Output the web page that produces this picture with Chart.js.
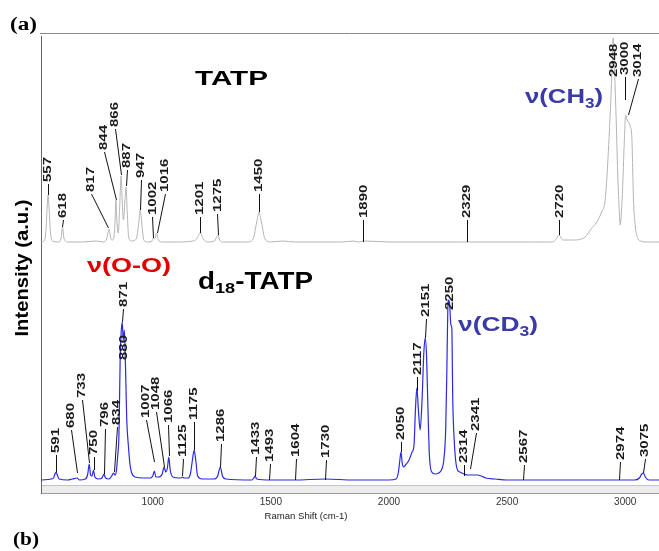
<!DOCTYPE html>
<html>
<head>
<meta charset="utf-8">
<script src="https://cdn.jsdelivr.net/npm/chart.js@4"></script>
<style>
html,body{margin:0;padding:0;background:#fff;}
canvas{display:block;}
</style>
</head>
<body>
<canvas id="c" width="659" height="551"></canvas>
<script>
// ---------- data ----------
const wavenumberTicks = [1000, 1500, 2000, 2500, 3000];

// TATP spectrum (intensity above its own baseline, a.u.)
const tatpShift = [527,540,548,553,557,561,566,575,600,612,618,624,640,700,760,790,805,815,822,830,
  838,841,844,848,854,860,866,871,876,882,887,892,898,910,930,940,947,954,962,980,
  997,1002,1008,1016,1024,1040,1100,1170,1185,1201,1215,1230,1262,1270,1276,1283,1300,1400,1425,1440,
  1450,1460,1475,1500,1550,1600,1800,1850,1870,1900,2000,2300,2600,2690,2705,2720,2735,2780,2830,2855,
  2880,2900,2915,2925,2939,2945,2949,2955,2962,2968,2974,2979,2984,2990,2996,3002,3008,3014,3022,3028,
  3035,3043,3055,3065,3100,3143];
const tatpIntensity = [0,0.01,0.12,0.35,0.47,0.35,0.12,0.01,0,0.04,0.15,0.04,0,0,0.01,0,0.03,0.13,0.04,0.02,
  0.1,0.25,0.42,0.22,0.09,0.35,0.66,0.4,0.22,0.4,0.55,0.3,0.05,0.01,0.03,0.18,0.32,0.18,0.02,0,
  0.01,0.04,0.03,0.09,0.02,0,0,0.01,0.03,0.09,0.03,0,0.01,0.05,0.07,0.02,0,0,0.03,0.2,
  0.3,0.2,0.03,0,0.01,0,0,0.01,0,0.01,0,0,0,0,0.02,0.07,0.02,0.02,0.05,0.13,
  0.2,0.3,0.42,0.75,1.42,1.8,2.04,1.7,1.2,0.7,0.35,0.17,0.3,0.6,1.0,1.27,1.22,1.2,1.15,1.05,
  0.42,0.15,0.03,0.01,0,0];

// d18-TATP spectrum (intensity above its baseline, a.u.)
const d18Shift = [527,570,580,586,591,596,604,640,660,680,690,715,725,731,737,743,749,755,770,785,
  794,800,815,826,834,840,846,852,857,862,867,871,875,880,885,890,897,904,911,925,
  960,990,1000,1007,1013,1025,1040,1048,1055,1062,1068,1074,1085,1110,1120,1125,1132,1150,1160,1168,
  1175,1182,1190,1210,1260,1275,1286,1295,1310,1420,1428,1433,1440,1500,1600,1730,1850,2000,2030,2040,
  2047,2051,2056,2062,2070,2085,2098,2106,2112,2118,2124,2132,2140,2147,2153,2159,2164,2171,2181,2195,
  2210,2222,2232,2240,2245,2249,2253,2257,2262,2266,2270,2276,2282,2290,2300,2318,2335,2350,2375,2390,
  2410,2450,2500,2700,3040,3060,3070,3077,3085,3100,3143];
const d18Intensity = [0,0.01,0.02,0.06,0.08,0.05,0.01,0,0.01,0.02,0,0.01,0.06,0.16,0.05,0.04,0.1,0.03,0.01,0.02,
  0.06,0.02,0.01,0.04,0.07,0.05,0.09,0.25,0.45,1.2,1.5,1.58,1.4,1.5,1.1,0.6,0.34,0.15,0.07,0.03,
  0.02,0.02,0.04,0.09,0.03,0.03,0.06,0.13,0.08,0.12,0.23,0.1,0.03,0.02,0.02,0.03,0.02,0.02,0.07,0.2,
  0.3,0.2,0.04,0.01,0.01,0.04,0.13,0.04,0.01,0,0.02,0.04,0.01,0,0,0.01,0,0,0.01,0.08,
  0.22,0.28,0.17,0.13,0.15,0.2,0.28,0.35,0.7,0.92,0.72,0.5,0.8,1.25,1.42,1.25,0.8,0.25,0.08,0.06,
  0.07,0.1,0.2,0.5,1.1,1.7,1.8,1.75,1.55,1.52,0.8,0.4,0.2,0.1,0.08,0.06,0.05,0.05,0.05,0.04,
  0.02,0.01,0,0,0,0.02,0.06,0.07,0.03,0,0];

const tatpOffset = 2.38;

// peak labels
const tatpPeakLabels = ['557','618','817','844','866','887','947','1002','1016','1201','1275','1450','1890','2329','2720','2948','3000','3014'];
const d18PeakLabels = ['591','680','733','750','796','834','871','880','1007','1048','1066','1125','1175','1286','1433','1493','1604','1730','2050','2117','2151','2250','2314','2341','2567','2974','3075'];

// annotation layout: [peak x, peak y, label x, label y] in axis units
const tatpLabelLayout = [
  [557,.47,557,.60],[618,.15,621,.24],[812,.14,738,.50],[845,.42,792,.92],[866,.67,841,1.15],
  [887,.56,890,.74],[947,.32,949,.64],[1002,.04,998,.27],[1016,.09,1050,.50],[1201,.09,1200,.27],
  [1276,.07,1274,.30],[1450,.30,1450,.50],[1890,0,1892,.24],[2329,0,2329,.24],[2720,.07,2721,.24],
  [2949,1.63,2950,1.65],[3000,1.42,3000,1.67],[3011,1.27,3052,1.65]];
const d18LabelLayout = [
  [591,.08,591,.27],[680,.07,653,.52],[731,.17,699,.82],[750,.10,751,.25],[794,.06,798,.53],
  [834,.08,848,.55],[871,1.58,876,1.73],[880,1.2,878,1.2],[1007,.18,970,.62],[1048,.13,1014,.70],
  [1068,.24,1066,.57],[1125,.04,1127,.23],[1175,.30,1175,.60],[1286,.13,1289,.38],[1433,.04,1436,.25],
  [1493,0,1497,.18],[1604,0,1605,.23],[1730,0,1734,.22],[2051,.28,2051,.40],[2118,.89,2120,1.05],
  [2153,1.42,2156,1.63],[2252,1.7,2256,1.7],[2318,.04,2318,.17],[2344,.11,2367,.49],[2567,0,2572,.17],
  [2974,0,2979,.20],[3077,.07,3082,.23]];

// ---------- helpers ----------
function drawText(ctx, s, x, y, font, color, targetW, align) {
  ctx.save();
  ctx.font = font; ctx.fillStyle = color; ctx.textBaseline = 'alphabetic';
  const w = ctx.measureText(s).width;
  const sx = targetW ? targetW / w : 1;
  ctx.translate(x, y); ctx.scale(sx, 1);
  ctx.textAlign = align || 'left';
  ctx.fillText(s, 0, 0);
  ctx.restore();
}
function drawRich(ctx, parts, x, y, targetW, color, family) {
  ctx.save();
  let total = 0;
  parts.forEach(p => { ctx.font = 'bold ' + p.size + 'px ' + family; p.w = ctx.measureText(p.t).width; total += p.w; });
  const sx = targetW / total;
  ctx.translate(x, y); ctx.scale(sx, 1);
  ctx.fillStyle = color; ctx.textBaseline = 'alphabetic'; ctx.textAlign = 'left';
  let cx = 0;
  parts.forEach(p => { ctx.font = 'bold ' + p.size + 'px ' + family; ctx.fillText(p.t, cx, p.dy || 0); cx += p.w; });
  ctx.restore();
}

const SANS = '"Liberation Sans", Arial, sans-serif';
const SERIF = '"Liberation Serif", "Times New Roman", serif';

const decorPlugin = {
  id: 'decor',
  beforeDatasetsDraw(chart) {
    const ctx = chart.ctx, a = chart.chartArea;
    ctx.save();
    // bottom band
    ctx.fillStyle = '#ececec';
    ctx.fillRect(a.left, a.bottom - 7, a.right - a.left, 7);
    ctx.strokeStyle = '#c4c4c4'; ctx.lineWidth = 1;
    ctx.beginPath(); ctx.moveTo(a.left, a.bottom - 7.5); ctx.lineTo(a.right, a.bottom - 7.5); ctx.stroke();
    ctx.strokeStyle = '#9a9a9a';
    ctx.beginPath(); ctx.moveTo(a.left, a.bottom + 0.5); ctx.lineTo(a.right, a.bottom + 0.5); ctx.stroke();
    // top border
    ctx.strokeStyle = '#8a8a8a';
    ctx.beginPath(); ctx.moveTo(a.left - 1, a.top + 0.5); ctx.lineTo(a.right, a.top + 0.5); ctx.stroke();
    // left axis
    ctx.strokeStyle = '#666';
    ctx.beginPath(); ctx.moveTo(a.left + 0.5, a.top + 3); ctx.lineTo(a.left + 0.5, a.bottom + 1); ctx.stroke();
    ctx.restore();
  },
  afterDatasetsDraw(chart) {
    const ctx = chart.ctx, xs = chart.scales.x, ys = chart.scales.y;
    function labels(names, layout, off) {
      names.forEach((name, i) => {
        const L = layout[i];
        const px = xs.getPixelForValue(L[0]), py = ys.getPixelForValue(L[1] + off);
        const lx = xs.getPixelForValue(L[2]), ly = ys.getPixelForValue(L[3] + off);
        ctx.save();
        if (py - (ly + 2) > 1) {
          ctx.strokeStyle = '#111'; ctx.lineWidth = 1;
          ctx.beginPath(); ctx.moveTo(Math.round(lx) + 0.5, ly + 2); ctx.lineTo(Math.round(px) + 0.5, py); ctx.stroke();
        }
        ctx.translate(lx + 0.5, ly);
        ctx.rotate(-Math.PI / 2);
        ctx.scale(1.5, 1);
        ctx.font = 'bold 10px ' + SANS;
        ctx.fillStyle = '#1a1a1a';
        ctx.textAlign = 'left'; ctx.textBaseline = 'middle';
        ctx.fillText(name, 0, 0);
        ctx.restore();
      });
    }
    labels(tatpPeakLabels, tatpLabelLayout, tatpOffset);
    labels(d18PeakLabels, d18LabelLayout, 0);

    // panel letters
    drawText(ctx, '(a)', 10, 30, 'bold 18px ' + SERIF, '#000', 27);
    drawText(ctx, '(b)', 13, 545, 'bold 18px ' + SERIF, '#000', 26);
    // titles
    drawText(ctx, 'TATP', 195, 85, 'bold 21px ' + SANS, '#000', 73);
    drawRich(ctx, [{t:'d', size:23}, {t:'18', size:15, dy:4}, {t:'-TATP', size:23}], 198, 289, 115, '#000', SANS);
    drawText(ctx, 'ν(O-O)', 87, 272, 'bold 21px ' + SANS, '#e00000', 84);
    drawRich(ctx, [{t:'ν(CH', size:21}, {t:'3', size:14, dy:5}, {t:')', size:21}], 525, 103, 78, '#3a3aa8', SANS);
    drawRich(ctx, [{t:'ν(CD', size:21}, {t:'3', size:14, dy:5}, {t:')', size:21}], 458, 331, 80, '#3a3aa8', SANS);
    // axis titles
    ctx.save();
    ctx.translate(28, 268); ctx.rotate(-Math.PI / 2);
    drawText(ctx, 'Intensity (a.u.)', 0, 0, 'bold 18px ' + SANS, '#000', 137, 'center');
    ctx.restore();
    drawText(ctx, 'Raman Shift (cm-1)', 306, 519, '9px ' + SANS, '#222', 83, 'center');
  }
};

new Chart(document.getElementById('c'), {
  type: 'line',
  data: {
    datasets: [
      {
        label: 'TATP',
        data: tatpShift.map((x, i) => ({x: x, y: tatpIntensity[i] + tatpOffset})),
        borderColor: '#b4b4b4', borderWidth: 1, pointRadius: 0, fill: false,
        cubicInterpolationMode: 'monotone'
      },
      {
        label: 'd18-TATP',
        data: d18Shift.map((x, i) => ({x: x, y: d18Intensity[i]})),
        borderColor: '#2a2ae0', borderWidth: 1.2, pointRadius: 0, fill: false,
        cubicInterpolationMode: 'monotone'
      }
    ]
  },
  options: {
    responsive: false, animation: false,
    layout: {padding: {left: 41, top: 33, right: 0, bottom: 0}},
    plugins: {legend: {display: false}, tooltip: {enabled: false}},
    scales: {
      x: {
        type: 'linear', min: 527, max: 3143,
        grid: {display: false, drawTicks: false},
        border: {display: false},
        afterBuildTicks: s => { s.ticks = wavenumberTicks.map(v => ({value: v})); },
        afterFit: s => { s.height = 58; },
        ticks: {color: '#333', font: {family: 'Liberation Sans', size: 10}, padding: 3, maxRotation: 0,
                callback: v => String(v)}
      },
      y: {display: false, min: -0.13, max: 4.47}
    }
  },
  plugins: [decorPlugin]
});
</script>
</body>
</html>
